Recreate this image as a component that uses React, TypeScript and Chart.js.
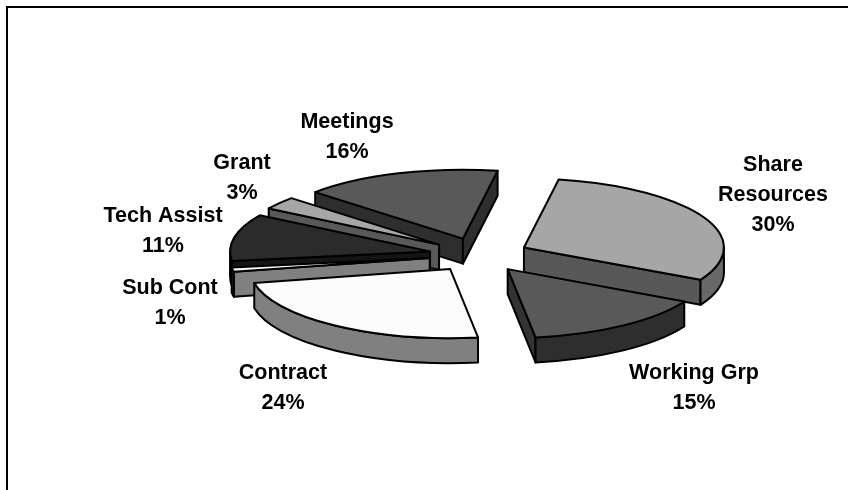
import React, { useEffect, useRef } from "react";
import { Chart, registerables } from "chart.js";

Chart.register(...registerables);

// Budget split, in percent, clockwise from the first slice.
const categories = ["Share Resources", "Working Grp", "Contract", "Sub Cont", "Tech Assist", "Grant", "Meetings"];
const shares = [30, 15, 24, 1, 11, 3, 16];
const labelLines = [["Share", "Resources", "30%"], ["Working Grp", "15%"], ["Contract", "24%"], ["Sub Cont", "1%"], ["Tech Assist", "11%"], ["Grant", "3%"], ["Meetings", "16%"]];

// Fill shades: top face, cut faces, outer rim.
const topColors = ["#a6a6a6", "#595959", "#fbfbfb", "#fbfbfb", "#2b2b2b", "#a6a6a6", "#595959"];
const cutColors = ["#585858", "#333333", "#808080", "#808080", "#141414", "#595959", "#2e2e2e"];
const rimColors = ["#686868", "#2e2e2e", "#808080", "#808080", "#141414", "#595959", "#2e2e2e"];

// Centre of the first text line of each label block.
const labelX = [773, 694, 283, 170, 163, 242, 347];
const labelY = [165, 373, 373, 288, 216, 163, 122];

const PIE_RADIUS = 200;
const SQUASH = 0.345;
const EXPLODE = 50;
const DEPTH = 25;
const LINE_HEIGHT = 30;

const TAU = Math.PI * 2;
const norm = (a: number) => ((a % TAU) + TAU) % TAU;

// Paints the pie's arcs as tilted, extruded wedges, back to front.
const tiltedPie = {
  id: "tiltedPie",
  beforeDatasetDraw(chart: any) {
    const { ctx } = chart;
    const arcs = chart.getDatasetMeta(0).data.map((arc: any, index: number) => {
      const { x, y, startAngle, endAngle, outerRadius } = arc.getProps(["x", "y", "startAngle", "endAngle", "outerRadius"], true);
      const mid = (startAngle + endAngle) / 2;
      const rx = outerRadius;
      const ry = outerRadius * SQUASH;
      return {
        index, startAngle, endAngle, rx, ry,
        cx: x + Math.cos(mid) * EXPLODE,
        cy: y + Math.sin(mid) * EXPLODE * SQUASH,
        fill: arc.options.backgroundColor,
        stroke: arc.options.borderColor,
        width: arc.options.borderWidth,
      };
    });
    arcs.sort((a: any, b: any) => a.cy - b.cy);

    ctx.save();
    ctx.lineJoin = "round";
    for (const s of arcs) {
      ctx.strokeStyle = s.stroke;
      ctx.lineWidth = s.width;
      const px = (a: number) => s.cx + s.rx * Math.cos(a);
      const py = (a: number) => s.cy + s.ry * Math.sin(a);

      const cut = (a: number) => {
        ctx.beginPath();
        ctx.moveTo(s.cx, s.cy);
        ctx.lineTo(px(a), py(a));
        ctx.lineTo(px(a), py(a) + DEPTH);
        ctx.lineTo(s.cx, s.cy + DEPTH);
        ctx.closePath();
        ctx.fillStyle = cutColors[s.index];
        ctx.fill();
        ctx.stroke();
      };
      if (Math.cos(s.startAngle) < 0) cut(s.startAngle);
      if (Math.cos(s.endAngle) > 0) cut(s.endAngle);

      // Outer rim: only the part on the near half of the ellipse shows.
      const base = norm(s.startAngle);
      const end = base + (s.endAngle - s.startAngle);
      const a0 = base < Math.PI ? base : Math.max(base, TAU);
      const a1 = base < Math.PI ? Math.min(end, Math.PI) : Math.min(end, TAU + Math.PI);
      if (a1 > a0) {
        ctx.beginPath();
        ctx.ellipse(s.cx, s.cy, s.rx, s.ry, 0, a0, a1);
        ctx.ellipse(s.cx, s.cy + DEPTH, s.rx, s.ry, 0, a1, a0, true);
        ctx.closePath();
        ctx.fillStyle = rimColors[s.index];
        ctx.fill();
        ctx.stroke();
      }

      // Top face.
      ctx.beginPath();
      ctx.moveTo(s.cx, s.cy);
      ctx.ellipse(s.cx, s.cy, s.rx, s.ry, 0, s.startAngle, s.endAngle);
      ctx.closePath();
      ctx.fillStyle = s.fill;
      ctx.fill();
      ctx.stroke();
    }
    ctx.restore();
    return false;
  },
  afterDraw(chart: any) {
    const { ctx } = chart;
    ctx.save();
    ctx.fillStyle = "#000000";
    ctx.font = 'bold 21.5px "Liberation Sans", Arial, sans-serif';
    ctx.textAlign = "center";
    ctx.textBaseline = "middle";
    labelLines.forEach((lines, i) => {
      lines.forEach((line, k) => {
        ctx.fillText(line, labelX[i], labelY[i] + k * LINE_HEIGHT);
      });
    });
    ctx.restore();
  },
  beforeDraw(chart: any) {
    const { ctx, width, height } = chart;
    ctx.save();
    ctx.fillStyle = "#ffffff";
    ctx.fillRect(0, 0, width, height);
    // Chart frame: its top and left edges fall inside the canvas.
    ctx.strokeStyle = "#000000";
    ctx.lineWidth = 2;
    ctx.beginPath();
    ctx.moveTo(7, height);
    ctx.lineTo(7, 7);
    ctx.lineTo(width, 7);
    ctx.stroke();
    ctx.restore();
  },
};

export default function App() {
  const canvasRef = useRef<HTMLCanvasElement | null>(null);

  useEffect(() => {
    document.body.style.margin = "0";
    const chart = new Chart(canvasRef.current as HTMLCanvasElement, {
      type: "pie",
      data: {
        labels: categories,
        datasets: [
          {
            data: shares,
            backgroundColor: topColors,
            borderColor: "#000000",
            borderWidth: 2,
          },
        ],
      },
      options: {
        responsive: false,
        animation: false,
        rotation: 10,
        radius: PIE_RADIUS,
        layout: { padding: { left: 110, top: 20 } },
        plugins: { legend: { display: false }, tooltip: { enabled: false } },
      },
      plugins: [tiltedPie],
    } as any);
    return () => chart.destroy();
  }, []);

  return <canvas ref={canvasRef} width={848} height={490} style={{ display: "block" }} />;
}
